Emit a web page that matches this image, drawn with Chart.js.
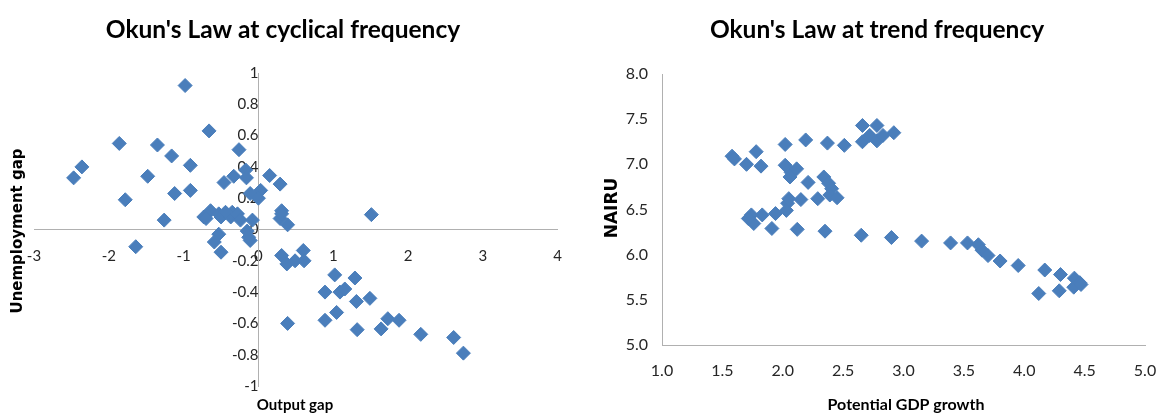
<!DOCTYPE html>
<html>
<head>
<meta charset="utf-8">
<script src="https://cdn.jsdelivr.net/npm/chart.js@4.4.1/dist/chart.umd.min.js"></script>
<style>
  body { margin: 0; background: #fff; }
  canvas { position: absolute; top: 0; }
  #cyc { left: 0; }
  #trend { left: 580px; }
</style>
</head>
<body>
<canvas id="cyc" width="580" height="415"></canvas>
<canvas id="trend" width="578" height="415"></canvas>
<script>
// cyclical frequency: output gap (x) vs unemployment gap (y)
var cycX = [-2.47, -2.36, -1.86, -1.78, -1.64, -1.48, -1.35, -1.26, -1.16, -1.12, -0.98, -0.91, -0.91,
  -0.66, -0.26, -0.46, -0.33, -0.17, -0.16, -0.11, 0.03, 0.00, 0.15, 0.29, 0.31, 0.29, 0.39, 1.51,
  -0.73, -0.64, -0.53, -0.50, -0.37, -0.35, -0.28, -0.24, -0.08, -0.70, -0.53, -0.59, -0.50, -0.15,
  -0.13, -0.11, 0.31, 0.38, 0.49, 0.60, 0.61, 1.02, 1.29, 0.89, 1.09, 1.155, 1.31, 1.49, 0.39, 0.89,
  1.045, 1.32, 1.64, 1.73, 1.88, 2.17, 2.61, 2.74, -0.44, 0.31];
var cycY = [0.33, 0.40, 0.55, 0.19, -0.11, 0.34, 0.54, 0.06, 0.47, 0.23, 0.92, 0.41, 0.25,
  0.63, 0.51, 0.30, 0.34, 0.38, 0.33, 0.23, 0.25, 0.20, 0.345, 0.29, 0.12, 0.07, 0.03, 0.095,
  0.08, 0.12, 0.10, 0.08, 0.08, 0.11, 0.10, 0.06, 0.06, 0.07, -0.03, -0.08, -0.145, -0.01,
  -0.05, -0.07, -0.166, -0.22, -0.20, -0.134, -0.20, -0.29, -0.31, -0.40, -0.40, -0.38, -0.46, -0.44, -0.60, -0.58,
  -0.53, -0.64, -0.635, -0.57, -0.58, -0.67, -0.69, -0.79, 0.11, 0.10];
var cycXTicks = ['-3', '-2', '-1', '0', '1', '2', '3', '4'];
var cycYTicks = ['-1', '-0.8', '-0.6', '-0.4', '-0.2', '0', '0.2', '0.4', '0.6', '0.8', '1'];

// trend frequency: potential GDP growth (x) vs NAIRU (y)
var trendX = [1.58, 1.60, 1.78, 1.70, 1.82, 2.02, 2.19, 2.37, 2.51, 2.66, 2.78, 2.92, 2.66, 2.72, 2.78, 2.83,
  2.02, 2.07, 2.115, 2.06, 2.21, 2.34, 2.38, 2.405, 2.39, 2.45, 2.29, 2.15, 2.04, 2.05, 2.03, 1.94,
  1.83, 1.74, 1.76, 1.715, 1.91, 2.12, 2.35, 2.65, 2.90, 3.15, 3.39, 3.53, 3.62, 3.65, 3.70, 3.80,
  3.95, 4.17, 4.12, 4.30, 4.29, 4.415, 4.41, 4.46, 4.47];
var trendY = [7.09, 7.06, 7.14, 7.00, 6.98, 7.22, 7.27, 7.235, 7.21, 7.43, 7.43, 7.35, 7.25, 7.32, 7.26, 7.32,
  6.99, 6.91, 6.95, 6.86, 6.80, 6.86, 6.79, 6.73, 6.66, 6.63, 6.62, 6.61, 6.57, 6.62, 6.49, 6.455,
  6.44, 6.44, 6.345, 6.40, 6.29, 6.28, 6.26, 6.215, 6.19, 6.15, 6.13, 6.13, 6.11, 6.05, 5.99, 5.93,
  5.88, 5.83, 5.57, 5.78, 5.60, 5.74, 5.64, 5.69, 5.67];
var trendXTicks = ['1.0', '1.5', '2.0', '2.5', '3.0', '3.5', '4.0', '4.5', '5.0'];
var trendYTicks = ['5.0', '5.5', '6.0', '6.5', '7.0', '7.5', '8.0'];

var blue = '#4a7ebb';
var axisGray = '#b0b0b0';
var tickColor = '#262626';

function toPoints(xs, ys) {
  return xs.map(function (x, i) { return { x: x, y: ys[i] }; });
}

// draws titles and axis titles as plain canvas text
var textPlugin = {
  id: 'textLabels',
  afterDraw: function (chart, args, opts) {
    var ctx = chart.ctx;
    (opts.items || []).forEach(function (it) {
      ctx.save();
      ctx.font = it.font;
      ctx.fillStyle = '#000';
      ctx.textAlign = 'center';
      ctx.textBaseline = 'middle';
      ctx.translate(it.x, it.y);
      if (it.rotate) ctx.rotate(-Math.PI / 2);
      ctx.fillText(it.text, 0, 0);
      ctx.restore();
    });
  }
};

var pointStyle = {
  pointStyle: 'rectRot',
  pointRadius: 7,
  pointHoverRadius: 7,
  backgroundColor: blue,
  borderColor: blue,
  borderWidth: 1
};

new Chart(document.getElementById('cyc'), {
  type: 'scatter',
  data: { datasets: [Object.assign({ data: toPoints(cycX, cycY) }, pointStyle)] },
  options: {
    responsive: false,
    animation: false,
    layout: { padding: { left: 34, top: 73, right: 21, bottom: 29 } },
    plugins: {
      legend: { display: false },
      tooltip: { enabled: false },
      textLabels: {
        items: [
          { text: "Okun's Law at cyclical frequency", x: 283, y: 30, font: 'bold 24.5px Lato' },
          { text: 'Output gap', x: 295, y: 405, font: 'bold 15px Lato' },
          { text: 'Unemployment gap', x: 18, y: 231, font: 'bold 15px "DejaVu Sans"', rotate: true }
        ]
      }
    },
    scales: {
      x: {
        type: 'linear', position: { y: 0 }, min: -3, max: 4,
        grid: { display: false, drawTicks: false },
        border: { display: true, color: axisGray, width: 1 },
        ticks: { stepSize: 1, padding: 18, color: tickColor, font: { family: 'Lato', size: 15 },
          callback: function (v, i) { return cycXTicks[i]; } }
      },
      y: {
        type: 'linear', position: { x: 0 }, min: -1, max: 1,
        grid: { display: false, drawTicks: false },
        border: { display: true, color: axisGray, width: 1 },
        ticks: { stepSize: 0.2, padding: 13, color: tickColor, font: { family: 'Lato', size: 15 },
          callback: function (v, i) { return cycYTicks[i]; } }
      }
    }
  },
  plugins: [textPlugin]
});

new Chart(document.getElementById('trend'), {
  type: 'scatter',
  data: { datasets: [Object.assign({ data: toPoints(trendX, trendY) }, pointStyle)] },
  options: {
    responsive: false,
    animation: false,
    layout: { padding: { left: 22, top: 74, right: 13, bottom: 20 } },
    plugins: {
      legend: { display: false },
      tooltip: { enabled: false },
      textLabels: {
        items: [
          { text: "Okun's Law at trend frequency", x: 297, y: 30, font: 'bold 24.5px Lato' },
          { text: 'Potential GDP growth', x: 326, y: 405, font: 'bold 16px Lato' },
          { text: 'NAIRU', x: 33, y: 208, font: 'bold 17px "DejaVu Sans"', rotate: true }
        ]
      }
    },
    scales: {
      x: {
        type: 'linear', min: 1, max: 5,
        afterFit: function (s) { s.height = 50; s.paddingRight = 0; },
        grid: { display: false, drawTicks: false },
        border: { display: true, color: axisGray, width: 1 },
        ticks: { stepSize: 0.5, padding: 16, color: tickColor, font: { family: 'Lato', size: 16 },
          callback: function (v, i) { return trendXTicks[i]; } }
      },
      y: {
        type: 'linear', min: 5, max: 8,
        afterFit: function (s) { s.width = 60; },
        grid: { display: false, drawTicks: false },
        border: { display: true, color: axisGray, width: 1 },
        ticks: { stepSize: 0.5, padding: 14, color: tickColor, font: { family: 'Lato', size: 16 },
          callback: function (v, i) { return trendYTicks[i]; } }
      }
    }
  },
  plugins: [textPlugin]
});
</script>
</body>
</html>
